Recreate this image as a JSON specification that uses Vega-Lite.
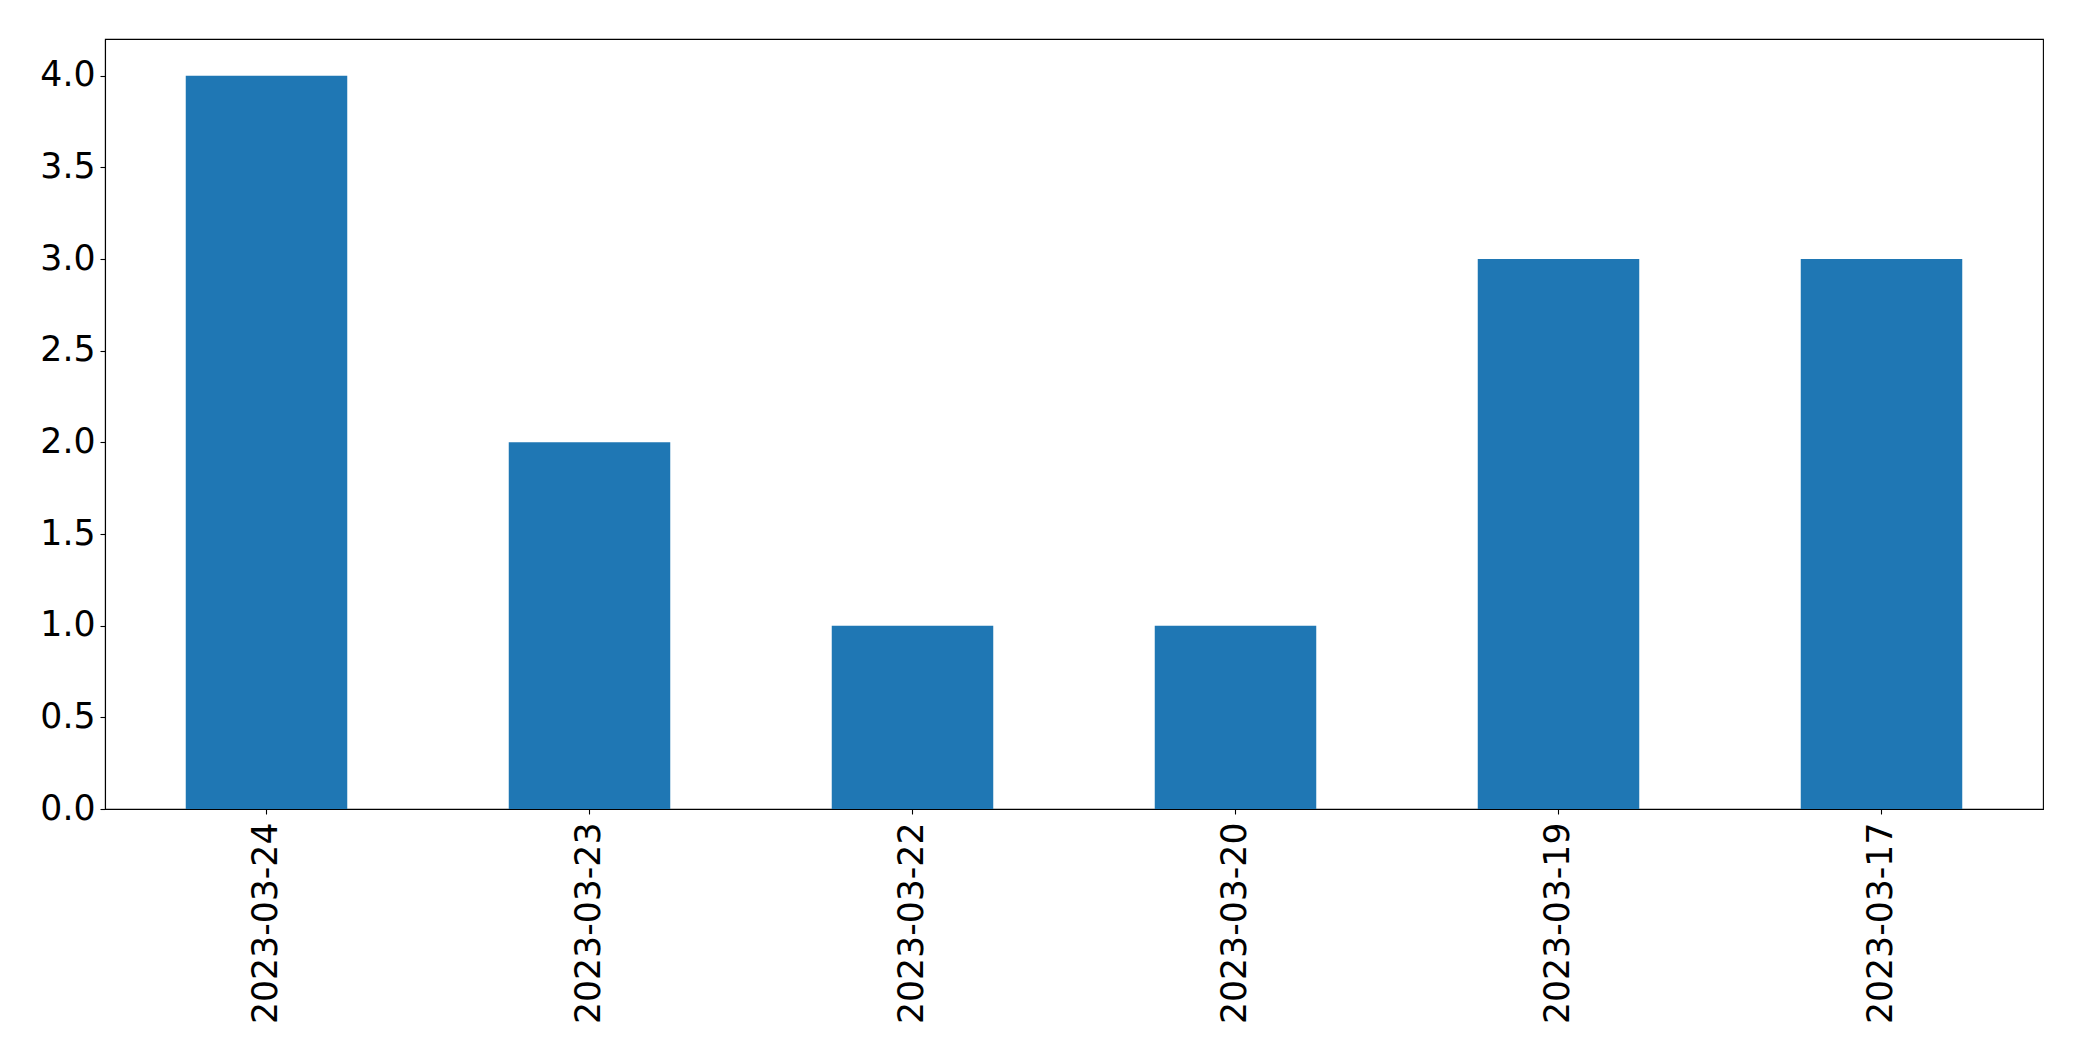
{
  "$schema": "https://vega.github.io/schema/vega-lite/v6.json",
  "width": 1938,
  "height": 770,
  "autosize": {"type": "none"},
  "padding": {"left": 105, "top": 39, "right": 39, "bottom": 252},
  "background": "white",
  "data": {
    "values": [
      {"date": "2023-03-24", "count": 4},
      {"date": "2023-03-23", "count": 2},
      {"date": "2023-03-22", "count": 1},
      {"date": "2023-03-20", "count": 1},
      {"date": "2023-03-19", "count": 3},
      {"date": "2023-03-17", "count": 3}
    ]
  },
  "mark": {"type": "bar", "color": "#1f77b4"},
  "encoding": {
    "x": {
      "field": "date",
      "type": "nominal",
      "sort": null,
      "scale": {"paddingInner": 0.5, "paddingOuter": 0.25},
      "axis": {
        "title": null,
        "labelAngle": -90,
        "labelAlign": "right",
        "labelBaseline": "middle",
        "labelFont": "DejaVu Sans",
        "labelFontSize": 34.7,
        "labelColor": "black",
        "labelPadding": 8,
        "labelLimit": 0,
        "tickSize": 5,
        "tickColor": "black",
        "tickWidth": 1.1,
        "domainColor": "black",
        "domainWidth": 1.1,
        "grid": false
      }
    },
    "y": {
      "field": "count",
      "type": "quantitative",
      "scale": {"domain": [0, 4.2], "nice": false, "zero": true},
      "axis": {
        "title": null,
        "values": [0, 0.5, 1, 1.5, 2, 2.5, 3, 3.5, 4],
        "format": ".1f",
        "labelFont": "DejaVu Sans",
        "labelFontSize": 34.7,
        "labelColor": "black",
        "labelPadding": 5,
        "labelLimit": 0,
        "tickSize": 5,
        "tickColor": "black",
        "tickWidth": 1.1,
        "domainColor": "black",
        "domainWidth": 1.1,
        "grid": false
      }
    }
  },
  "config": {
    "view": {"stroke": "black", "strokeWidth": 1.1}
  }
}
